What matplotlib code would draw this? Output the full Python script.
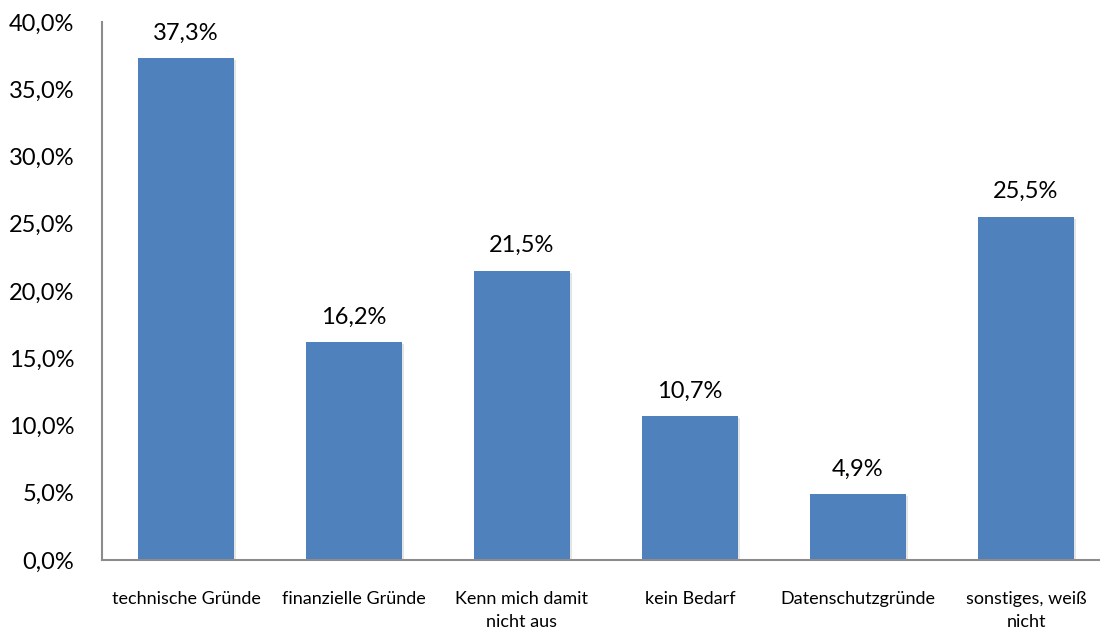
import matplotlib.pyplot as plt
import matplotlib.patheffects as pe
from matplotlib.ticker import FuncFormatter

categories = ["technische Gründe", "finanzielle Gründe", "Kenn mich damit\nnicht aus",
              "kein Bedarf", "Datenschutzgründe", "sonstiges, weiß\nnicht"]
values = [37.3, 16.2, 21.5, 10.7, 4.9, 25.5]
y_ticks = [0, 5, 10, 15, 20, 25, 30, 35, 40]

plt.rcParams["font.family"] = ["Lato", "DejaVu Sans"]

fig = plt.figure(figsize=(11, 6.3), dpi=100)
ax = fig.add_axes([0.0927, 0.111, 0.9164, 0.854])

x = range(len(categories))
bars = ax.bar(x, values, width=0.57, color="#4F81BD", zorder=2)
for b in bars:
    b.set_path_effects([pe.SimplePatchShadow(offset=(1.5, -1.5), shadow_rgbFace="#cccccc", alpha=0.5),
                        pe.Normal()])

for xi, v in zip(x, values):
    ax.text(xi, v + 1.1, f"{v:.1f}%".replace(".", ","), ha="center", va="bottom", fontsize=17)

ax.set_xlim(-0.5, 5.5)
ax.set_ylim(0, 40)
ax.set_yticks(y_ticks)
ax.yaxis.set_major_formatter(FuncFormatter(lambda v, p: f"{v:.1f}%".replace(".", ",")))
ax.set_xticks(list(x))
ax.set_xticklabels(categories, fontsize=13, linespacing=1.55)
ax.tick_params(axis="y", length=0, labelsize=17, pad=20)
ax.tick_params(axis="x", length=0, pad=22)

for s in ["top", "right"]:
    ax.spines[s].set_visible(False)
for s in ["left", "bottom"]:
    ax.spines[s].set_color("#8c8c8c")
    ax.spines[s].set_linewidth(1.5)

fig.savefig("out.png", dpi=100)
